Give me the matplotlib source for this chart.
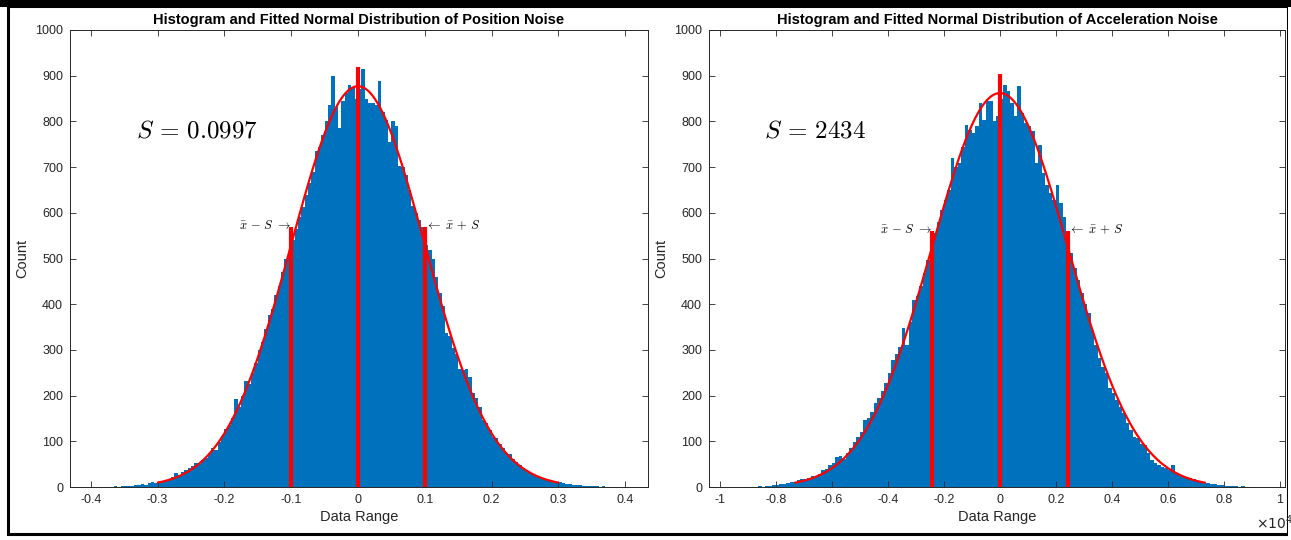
import numpy as np
import matplotlib.pyplot as plt
from matplotlib.patches import Rectangle

plt.rcParams['font.family'] = ['Liberation Sans', 'DejaVu Sans']
plt.rcParams['mathtext.fontset'] = 'cm'

# ---- position noise histogram (bin width 0.005, first edge -0.40)
pos_start, pos_width = -0.40, 0.005
pos_counts = [
    0, 0, 1, 0, 1, 1, 0, 2, 1, 3,
    2, 3, 2, 4, 5, 6, 5, 8, 10, 9,
    11, 13, 15, 18, 22, 30, 26, 32, 38, 42,
    45, 52, 50, 58, 64, 72, 85, 80, 98, 112,
    128, 135, 150, 192, 175, 200, 232, 225, 250, 272,
    300, 318, 345, 376, 390, 420, 440, 470, 500, 515,
    540, 565, 590, 612, 640, 665, 690, 735, 745, 770,
    800, 835, 900, 832, 785, 845, 862, 880, 875, 848,
    870, 915, 850, 840, 840, 835, 888, 820, 802, 756,
    800, 790, 703, 700, 683, 650, 614, 600, 585, 570,
    530, 519, 500, 460, 424, 395, 336, 330, 305, 292,
    258, 256, 258, 240, 205, 195, 175, 147, 140, 125,
    110, 108, 95, 85, 74, 72, 62, 55, 48, 42,
    38, 30, 28, 25, 22, 19, 16, 14, 12, 10,
    12, 8, 7, 6, 4, 5, 4, 3, 3, 2,
    2, 2, 1, 2, 1, 1, 1, 0, 1, 0,
]
pos_mean, pos_S, pos_peak = 0.0, 0.0997, 877
pos_mark_top = [568, 918, 568]   # heights of red markers at mean-S, mean, mean+S

# ---- acceleration noise histogram (bin width 125, first edge -9000)
acc_start, acc_width = -9000, 125
acc_counts = [
    1, 0, 1, 2, 1, 2, 3, 4,
    5, 7, 6, 9, 12, 11, 15, 17,
    18, 20, 23, 22, 28, 37, 40, 48,
    52, 66, 68, 62, 75, 85, 98, 110,
    120, 147, 150, 165, 183, 195, 210, 227,
    250, 278, 290, 307, 347, 310, 360, 409,
    417, 440, 468, 497, 515, 555, 580, 606,
    628, 650, 720, 701, 710, 745, 793, 782,
    774, 789, 840, 803, 844, 844, 800, 811,
    850, 880, 866, 840, 811, 877, 818, 796,
    790, 778, 708, 748, 687, 660, 643, 628,
    661, 621, 590, 552, 512, 480, 453, 424,
    400, 380, 344, 310, 282, 262, 249, 216,
    205, 190, 175, 161, 140, 125, 110, 107,
    95, 92, 75, 60, 52, 48, 44, 41,
    38, 48, 30, 26, 24, 21, 19, 17,
    14, 12, 10, 8, 6, 6, 5, 4,
    3, 3, 2, 2, 1, 2, 1, 1,
]
acc_mean, acc_S, acc_peak = 0.0, 2434, 862
acc_mark_top = [560, 904, 560]

pos_ticks = [-0.4, -0.3, -0.2, -0.1, 0, 0.1, 0.2, 0.3, 0.4]
pos_ticklabels = ['-0.4', '-0.3', '-0.2', '-0.1', '0', '0.1', '0.2', '0.3', '0.4']
acc_ticks = [-10000, -8000, -6000, -4000, -2000, 0, 2000, 4000, 6000, 8000, 10000]
acc_ticklabels = ['-1', '-0.8', '-0.6', '-0.4', '-0.2', '0', '0.2', '0.4', '0.6', '0.8', '1']

bar_color = '#0072BD'
ax_color = '#262626'

fig = plt.figure(figsize=(12.91, 5.40), dpi=100)


def draw_panel(rect, start, width, counts, mean, S, peak, mark_top, xlim,
               ticks, ticklabels, title, s_text, s_pos, lab_y):
    ax = fig.add_axes(rect)
    counts = np.array(counts)
    edges = start + width * np.arange(len(counts))
    ax.bar(edges, counts, width=width, align='edge', color=bar_color, linewidth=0)

    # fitted normal curve over mean +- 3S
    xs = np.linspace(mean - 3 * S, mean + 3 * S, 400)
    ax.plot(xs, peak * np.exp(-0.5 * ((xs - mean) / S) ** 2), color='red', lw=1.6)

    # markers at mean-S, mean, mean+S
    for xm, top in zip([mean - S, mean, mean + S], mark_top):
        ax.plot([xm, xm], [0, top], color='red', lw=3.0, solid_capstyle='butt')

    ax.text(mean - S, lab_y, r'$\bar{x}\,-\,S\ \rightarrow$', ha='right', va='center', fontsize=9)
    ax.text(mean + S, lab_y, r'$\leftarrow\ \bar{x}\,+\,S$', ha='left', va='center', fontsize=9)
    ax.text(s_pos, 781, s_text, ha='left', va='center', fontsize=18)

    ax.set_xlim(*xlim)
    ax.set_ylim(0, 1000)
    ax.set_xticks(ticks)
    ax.set_xticklabels(ticklabels)
    ax.set_yticks(range(0, 1001, 100))
    ax.tick_params(direction='in', top=True, right=True, length=4, width=0.6,
                   labelsize=9, colors=ax_color, pad=5)
    for sp in ax.spines.values():
        sp.set_color(ax_color)
        sp.set_linewidth(0.7)
    ax.set_title(title, fontsize=10.5, fontweight='bold', pad=4)
    ax.set_xlabel('Data Range', fontsize=10.5, color=ax_color, labelpad=3)
    ax.set_ylabel('Count', fontsize=10.5, color=ax_color, labelpad=4)
    return ax


draw_panel([70 / 1291, 53 / 540, 578 / 1291, 457 / 540], pos_start, pos_width, pos_counts,
           pos_mean, pos_S, pos_peak, pos_mark_top, (-0.431, 0.434),
           pos_ticks, pos_ticklabels,
           'Histogram and Fitted Normal Distribution of Position Noise',
           r'$S\,=\,0.0997$', -0.332, 572)

draw_panel([709 / 1291, 53 / 540, 576 / 1291, 457 / 540], acc_start, acc_width, acc_counts,
           acc_mean, acc_S, acc_peak, acc_mark_top, (-10390, 10180),
           acc_ticks, acc_ticklabels,
           'Histogram and Fitted Normal Distribution of Acceleration Noise',
           r'$S\,=\,2434$', -8430, 563)

fig.text(1256 / 1291, 1 - 523 / 540, r'$\times 10^4$', fontsize=10, color=ax_color,
         ha='left', va='center', family='DejaVu Sans', math_fontfamily='dejavusans')

# black frame around the figure
fig.add_artist(Rectangle((7.5 / 1291, 6.5 / 540), 1280 / 1291, 528 / 540,
                         transform=fig.transFigure, fill=False, ec='black', lw=2.2))
fig.add_artist(Rectangle((1288 / 1291, 0), 3 / 1291, 1, transform=fig.transFigure,
                         fc='white', ec='none'))
fig.add_artist(Rectangle((0, 533 / 540), 1, 7 / 540, transform=fig.transFigure,
                         fc='black', ec='none'))

fig.savefig('out.png', dpi=100)
